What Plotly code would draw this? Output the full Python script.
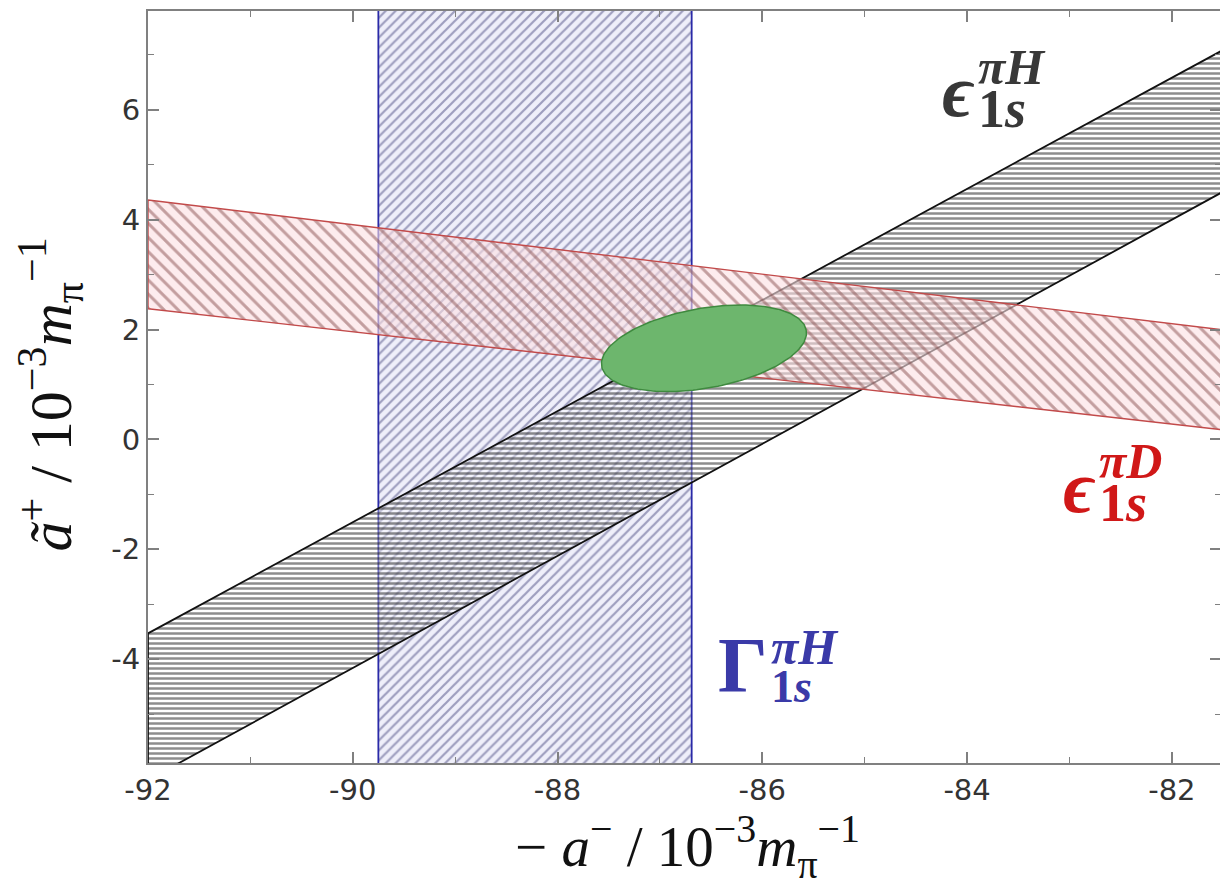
import numpy as np
import plotly.graph_objects as go

# ---- data ----
x_edges = [-92.0, -81.52]                 # x where band boundaries are sampled
eH_upper = [-3.53, 7.07]                  # epsilon_1s^piH band, upper boundary
eH_lower = [-6.20, 4.49]                  # epsilon_1s^piH band, lower boundary
eD_upper = [4.36, 2.00]                   # epsilon_1s^piD band, upper boundary
eD_lower = [2.38, 0.18]                   # epsilon_1s^piD band, lower boundary
gH_left, gH_right = -89.75, -86.69        # Gamma_1s^piH band (vertical)
ell_center = (-86.57, 1.66)               # combined fit ellipse
ell_axis_a = (0.999, 0.329)
ell_axis_b = (-0.067, 0.716)

x_range = [-92.0, -81.52]
y_range = [-5.89, 7.80]
x_tickvals = [-92, -90, -88, -86, -84, -82]
x_ticktext = ["-92", "-90", "-88", "-86", "-84", "-82"]
y_tickvals = [-4, -2, 0, 2, 4, 6]
y_ticktext = ["-4", "-2", "0", "2", "4", "6"]

fig = go.Figure()

# Gamma band (blue, vertical)
yb = [y_range[0] - 2, y_range[1] + 2]
fig.add_trace(go.Scatter(
    x=[gH_left, gH_right, gH_right, gH_left, gH_left],
    y=[yb[0], yb[0], yb[1], yb[1], yb[0]],
    mode="lines", fill="toself",
    line=dict(color="#2a2aa8", width=1.8),
    fillcolor="rgba(0,0,0,0)",
    fillpattern=dict(shape="/", size=7, solidity=0.32,
                     fgcolor="#4e4e84", bgcolor="rgba(238,238,250,0.9)"),
    hoverinfo="skip", showlegend=False))

# epsilon H band (black, horizontal hatch)
fig.add_trace(go.Scatter(
    x=[x_edges[0], x_edges[1], x_edges[1], x_edges[0], x_edges[0]],
    y=[eH_upper[0], eH_upper[1], eH_lower[1], eH_lower[0], eH_upper[0]],
    mode="lines", fill="toself",
    line=dict(color="#111111", width=1.8),
    fillcolor="rgba(0,0,0,0)",
    fillpattern=dict(shape="-", size=5, solidity=0.5,
                     fgcolor="#1c1c1c", bgcolor="rgba(255,255,255,0.3)"),
    hoverinfo="skip", showlegend=False))

# epsilon D band (red)
fig.add_trace(go.Scatter(
    x=[x_edges[0], x_edges[1], x_edges[1], x_edges[0], x_edges[0]],
    y=[eD_upper[0], eD_upper[1], eD_lower[1], eD_lower[0], eD_upper[0]],
    mode="lines", fill="toself",
    line=dict(color="#c24a4a", width=1.4),
    fillcolor="rgba(0,0,0,0)",
    fillpattern=dict(shape="\\", size=10, solidity=0.3,
                     fgcolor="#8a5050", bgcolor="rgba(251,224,226,0.6)"),
    hoverinfo="skip", showlegend=False))

# ellipse
t = np.linspace(0, 2 * np.pi, 181)
ex = ell_center[0] + ell_axis_a[0] * np.cos(t) + ell_axis_b[0] * np.sin(t)
ey = ell_center[1] + ell_axis_a[1] * np.cos(t) + ell_axis_b[1] * np.sin(t)
fig.add_trace(go.Scatter(
    x=ex, y=ey, mode="lines", fill="toself",
    line=dict(color="#3f8a3f", width=1.5),
    fillcolor="#6db66d", hoverinfo="skip", showlegend=False))

serif = "Liberation Serif, DejaVu Serif, serif"


def symbol_label(x, y_main, y_idx, main, sup, sub, main_size, sup_size, sub_size,
                 line_size, color):
    # main symbol right-anchored, stacked sup/sub left-anchored at the same x
    fig.add_annotation(x=x, y=y_main, xref="x", yref="y", text=main,
                       showarrow=False, xanchor="right", yanchor="middle",
                       borderpad=0, font=dict(family=serif, size=main_size, color=color))
    txt = (f"<span style='font-size:{sup_size}px'>{sup}</span><br>"
           f"<span style='font-size:{sub_size}px'>{sub}</span>")
    fig.add_annotation(x=x, y=y_idx, xref="x", yref="y", text=txt,
                       showarrow=False, xanchor="left", yanchor="middle", align="left",
                       borderpad=0, xshift=1,
                       font=dict(family=serif, size=line_size, color=color))


EPS = "<b><i>ϵ</i></b>"
ONE_S = "<b>1<i>s</i></b>"

symbol_label(-83.91, 6.35, 6.375, EPS, "<b><i>πH</i></b>", ONE_S, 74, 50, 54, 33, "#383838")
symbol_label(-82.73, -0.87, -0.80, EPS, "<b><i>πD</i></b>", ONE_S, 74, 50, 54, 33, "#d01818")
symbol_label(-85.935, -4.09, -4.11, "<b>Γ</b>", "<b><i>πH</i></b>", ONE_S, 78, 50, 46, 29, "#3a3aa8")

# axis titles as annotations
fig.add_annotation(x=-0.0913, y=0.49, xref="paper", yref="paper", textangle=-90,
                   text="<i>ã</i><sup>+</sup> / 10<sup>−3</sup><i>m</i><sub>π</sub><sup>−1</sup>",
                   showarrow=False, xanchor="center", yanchor="middle",
                   font=dict(family=serif, size=60, color="#111111"))
fig.add_annotation(x=0.503, y=-0.111, xref="paper", yref="paper",
                   text="− <i>a</i><sup>−</sup> / 10<sup>−3</sup><i>m</i><sub>π</sub><sup>−1</sup>",
                   showarrow=False, xanchor="center", yanchor="middle",
                   font=dict(family=serif, size=57, color="#111111"))

axis_common = dict(showline=True, linecolor="#808080", linewidth=2, mirror="ticks",
                   ticks="inside", ticklen=11, tickwidth=1.5, tickcolor="#808080",
                   showgrid=False, zeroline=False,
                   tickfont=dict(family="DejaVu Sans, Liberation Sans, sans-serif",
                                 size=29, color="#333333"))
minor = dict(dtick=1, ticks="inside", ticklen=6, tickcolor="#808080",
             tickwidth=1.2, showgrid=False)

fig.update_xaxes(range=x_range, tickvals=x_tickvals, ticktext=x_ticktext,
                 minor=minor, **axis_common)
fig.update_yaxes(range=y_range, tickvals=y_tickvals, ticktext=y_ticktext,
                 minor=minor, **axis_common)

fig.update_layout(width=1220, height=881, plot_bgcolor="white", paper_bgcolor="white",
                  margin=dict(l=140, r=7, t=1, b=126), showlegend=False)

fig.write_html("out.html")
